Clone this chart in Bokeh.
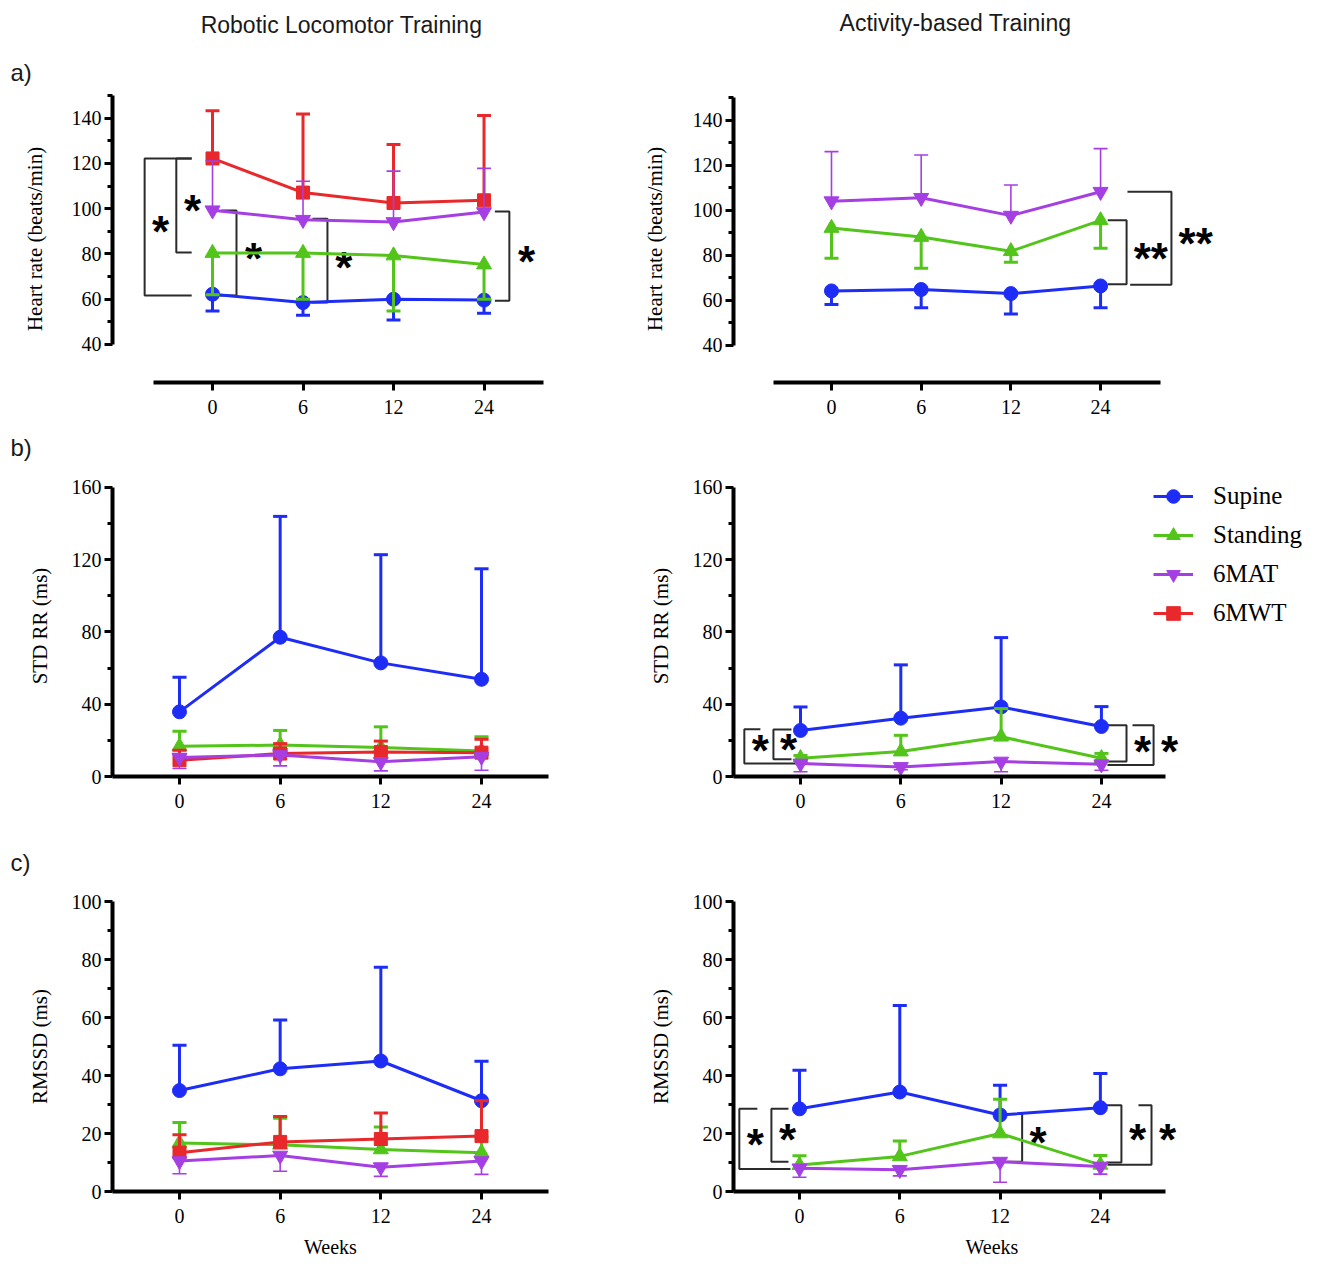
from bokeh.plotting import figure
from bokeh.models import ColumnDataSource, FixedTicker, Legend, LegendItem, Range1d
from bokeh.layouts import row, column
from bokeh.embed import file_html
from bokeh.resources import INLINE
from bokeh.core.properties import value

weeks = ["0", "6", "12", "24"]
groups = ["Supine", "Standing", "6MAT", "6MWT"]

# a) Heart rate (beats/min) - Robotic Locomotor Training
hr_rlt_supine = [62.2, 58.5, 60.0, 59.6]
hr_rlt_supine_sd = [7.4, 5.6, 9.2, 5.8]
hr_rlt_standing = [80.4, 80.4, 79.3, 75.3]
hr_rlt_standing_sd = [18.4, 20.4, 24.5, 15.3]
hr_rlt_6mat = [99.3, 95.1, 94.1, 98.5]
hr_rlt_6mat_sd = [21.7, 17.0, 22.5, 19.3]
hr_rlt_6mwt = [122.2, 107.1, 102.5, 103.7]
hr_rlt_6mwt_sd = [21.1, 34.7, 25.9, 37.5]
# a) Heart rate - Activity-based Training
hr_abt_supine = [64.2, 64.8, 63.0, 66.4]
hr_abt_supine_sd = [6.0, 8.1, 9.0, 9.7]
hr_abt_standing = [92.1, 88.1, 81.8, 95.5]
hr_abt_standing_sd = [13.4, 13.8, 4.9, 12.4]
hr_abt_6mat = [104.0, 105.5, 97.6, 108.2]
hr_abt_6mat_sd = [22.0, 19.0, 13.6, 19.1]

# b) STD RR (ms) - Robotic Locomotor Training
std_rlt_supine = [35.8, 77.1, 62.9, 53.8]
std_rlt_supine_sd = [19.1, 66.9, 59.9, 61.2]
std_rlt_standing = [16.7, 17.4, 16.0, 14.1]
std_rlt_standing_sd = [8.3, 8.1, 11.5, 7.9]
std_rlt_6mat = [10.5, 11.9, 8.1, 11.0]
std_rlt_6mat_sd = [6.1, 6.0, 5.0, 7.5]
std_rlt_6mwt = [9.0, 12.7, 13.6, 13.2]
std_rlt_6mwt_sd = [5.5, 5.5, 6.0, 7.4]
# b) STD RR - Activity-based Training
std_abt_supine = [25.5, 32.3, 38.5, 27.7]
std_abt_supine_sd = [13.0, 29.5, 38.4, 11.0]
std_abt_standing = [10.1, 13.8, 22.0, 10.1]
std_abt_standing_sd = [1.5, 9.0, 15.6, 2.7]
std_abt_6mat = [7.2, 5.3, 8.3, 6.8]
std_abt_6mat_sd = [4.6, 1.6, 5.7, 3.3]

# c) RMSSD (ms) - Robotic Locomotor Training
rmssd_rlt_supine = [34.8, 42.3, 45.0, 31.3]
rmssd_rlt_supine_sd = [15.6, 16.8, 32.3, 13.6]
rmssd_rlt_standing = [16.7, 16.1, 14.5, 13.4]
rmssd_rlt_standing_sd = [7.1, 9.2, 7.7, 5.4]
rmssd_rlt_6mat = [10.5, 12.4, 8.4, 10.5]
rmssd_rlt_6mat_sd = [4.4, 5.4, 3.2, 4.6]
rmssd_rlt_6mwt = [13.4, 17.1, 18.1, 19.1]
rmssd_rlt_6mwt_sd = [6.2, 8.8, 9.0, 12.2]
# c) RMSSD - Activity-based Training
rmssd_abt_supine = [28.5, 34.3, 26.4, 28.9]
rmssd_abt_supine_sd = [13.3, 29.8, 10.2, 11.8]
rmssd_abt_standing = [9.1, 12.1, 20.0, 9.2]
rmssd_abt_standing_sd = [3.2, 5.3, 11.8, 3.2]
rmssd_abt_6mat = [8.0, 7.5, 10.3, 8.6]
rmssd_abt_6mat_sd = [3.1, 2.1, 7.1, 2.6]

# significance brackets: (x of vertical, x end top arm, x end bottom arm, y top, y bottom)
br_hr_rlt = [(-0.75, -0.23, -0.23, 122.2, 61.6), (-0.40, -0.23, -0.23, 122.2, 80.6),
             (0.265, 0.10, 0.08, 99.2, 61.6), (1.27, 1.105, 1.10, 95.6, 58.5),
             (3.28, 3.12, 3.12, 98.8, 59.3)]
st_hr_rlt = [(-0.575, 92.1, "*"), (-0.22, 101.4, "*"), (0.453, 80.2, "*"),
             (1.45, 76.2, "*"), (3.47, 78.8, "*")]
br_hr_abt = [(3.29, 3.08, 3.08, 95.5, 67.2), (3.79, 3.30, 3.33, 108.2, 66.9)]
st_hr_abt = [(3.56, 80.9, "**"), (4.06, 87.3, "**")]
br_std_abt = [(-0.56, -0.40, -0.01, 26.1, 7.2), (-0.27, -0.09, -0.09, 26.0, 9.5),
              (3.25, 3.06, 3.06, 28.4, 8.3), (3.52, 3.31, 3.06, 28.4, 6.4)]
st_std_abt = [(-0.40, 16.9, "*"), (-0.12, 17.8, "*"), (3.41, 16.5, "*"), (3.68, 16.5, "*")]
br_rmssd_abt = [(-0.60, -0.42, -0.09, 28.5, 7.8), (-0.28, -0.11, -0.11, 28.5, 10.3),
                (2.22, 2.07, 2.07, 26.7, 10.3), (3.21, 3.06, 3.06, 29.7, 10.0),
                (3.51, 3.38, 3.07, 29.7, 9.2)]
st_rmssd_abt = [(-0.44, 18.0, "*"), (-0.12, 19.5, "*"), (2.38, 18.6, "*"),
                (3.37, 19.8, "*"), (3.67, 19.8, "*")]

# header texts
header_titles = ["Robotic Locomotor Training", "Activity-based Training"]
panel_letters = ["a)", "b)", "c)"]

COLORS = {"Supine": "#1e2df5", "Standing": "#52c41a", "6MAT": "#a53fe3", "6MWT": "#e8282b"}
MARKERS = {"Supine": "circle", "Standing": "triangle", "6MAT": "inverted_triangle", "6MWT": "square"}
SIZES = {"Supine": 14, "Standing": 15, "6MAT": 15, "6MWT": 13}
ERR_W = {"Supine": 3, "Standing": 3, "6MAT": 1.6, "6MWT": 3}
DIR_A = {"Supine": -1, "Standing": -1, "6MAT": 1, "6MWT": 1}
DIR_BC = {"Supine": 1, "Standing": 1, "6MAT": -1, "6MWT": 1}

SERIF = "Liberation Serif"
SANS = "Liberation Sans"
LEFT_W, RIGHT_W = 620, 700


def strip(height, texts):
    p = figure(width=LEFT_W + RIGHT_W, height=height, x_range=Range1d(0, LEFT_W + RIGHT_W),
               y_range=Range1d(height, 0), output_backend="svg", toolbar_location=None,
               title=None, x_axis_type=None, y_axis_type=None,
               min_border_left=0, min_border_right=0, min_border_top=0, min_border_bottom=0)
    p.grid.visible = False
    p.outline_line_color = None
    for (t, x, y, size, align) in texts:
        p.text(x=[x], y=[y], text=[t], text_font=value(SANS), text_font_size=size,
               text_align=align, text_baseline="middle", text_color="#1a1a1a")
    return p


def make_panel(width, height, borders, xr, yr, yticks, yminor, ybounds, xbounds,
               ylabel, ylabel_standoff, xlabel=None):
    l, r, t, b = borders
    p = figure(width=width, height=height, x_range=xr, y_range=yr,
               output_backend="svg", toolbar_location=None, title=None,
               min_border_left=l, min_border_right=r, min_border_top=t, min_border_bottom=b)
    p.grid.visible = False
    p.outline_line_color = None
    p.background_fill_color = "white"
    p.border_fill_color = "white"
    for ax in (p.xaxis[0], p.yaxis[0]):
        ax.axis_line_width = 4
        ax.axis_line_color = "black"
        ax.major_tick_out = 8
        ax.major_tick_in = 0
        ax.major_tick_line_width = 3
        ax.major_tick_line_color = "black"
        ax.minor_tick_out = 5
        ax.minor_tick_in = 0
        ax.minor_tick_line_width = 3
        ax.major_label_text_font = SERIF
        ax.major_label_text_font_size = "20px"
        ax.major_label_text_color = "black"
        ax.axis_label_text_font = SERIF
        ax.axis_label_text_font_style = "normal"
        ax.axis_label_text_color = "black"
    xa = p.xaxis[0]
    xa.ticker = FixedTicker(ticks=[0, 1, 2, 3])
    xa.major_label_overrides = {i: w for i, w in enumerate(weeks)}
    xa.minor_tick_line_color = None
    xa.major_label_standoff = 9
    if xbounds is not None:
        xa.bounds = xbounds
    if xlabel:
        xa.axis_label = xlabel
        xa.axis_label_text_font_size = "20px"
        xa.axis_label_standoff = 10
    ya = p.yaxis[0]
    ya.ticker = FixedTicker(ticks=yticks, minor_ticks=yminor)
    ya.bounds = ybounds
    ya.major_label_standoff = 3
    ya.axis_label = ylabel
    ya.axis_label_text_font_size = "21px"
    ya.axis_label_standoff = ylabel_standoff
    return p


def draw_series(p, name, means, sds, direction, capw):
    x = [0, 1, 2, 3]
    c = COLORS[name]
    lr = p.line(x, means, line_color=c, line_width=3)
    ends = [m + direction[name] * s for m, s in zip(means, sds)]
    ew = ERR_W[name]
    p.segment(x0=x, y0=means, x1=x, y1=ends, line_color=c, line_width=ew)
    p.segment(x0=[xi - capw for xi in x], y0=ends, x1=[xi + capw for xi in x], y1=ends,
              line_color=c, line_width=ew)
    sr = p.scatter(x, means, marker=MARKERS[name], size=SIZES[name], fill_color=c, line_color=c)
    return lr, sr


def draw_sig(p, brackets, stars):
    xs = [[a, v, v, bb] for (v, a, bb, yt, yb) in brackets]
    ys = [[yt, yt, yb, yb] for (v, a, bb, yt, yb) in brackets]
    p.multi_line(xs=xs, ys=ys, line_color="#2b2b2b", line_width=2)
    src = ColumnDataSource(dict(x=[s[0] for s in stars], y=[s[1] for s in stars],
                                t=[s[2] for s in stars]))
    p.text(x="x", y="y", text="t", source=src, text_font=value(SANS), text_font_style="bold",
           text_font_size="44px", text_align="center", text_baseline="alphabetic",
           y_offset=5, text_color="black")


# ---------- header strips
s1 = strip(90, [(header_titles[0], 341, 24, "23px", "center"),
                (header_titles[1], 955, 22, "23px", "center"),
                (panel_letters[0], 10, 72, "24px", "left")])
s2 = strip(45, [(panel_letters[1], 10, 22, "24px", "left")])
s3 = strip(45, [(panel_letters[2], 10, 22, "24px", "left")])

# ---------- a) left
pa1 = make_panel(LEFT_W, 335, (112, 60, 5, 43), (-1.105, 3.845), (23.2, 150),
                 [40, 60, 80, 100, 120, 140], [50, 70, 90, 110, 130, 150], (40, 150),
                 (-0.65, 3.66), "Heart rate (beats/min)", 22)
draw_sig(pa1, br_hr_rlt, st_hr_rlt)
for nm, m, s in [("Supine", hr_rlt_supine, hr_rlt_supine_sd),
                 ("Standing", hr_rlt_standing, hr_rlt_standing_sd),
                 ("6MWT", hr_rlt_6mwt, hr_rlt_6mwt_sd),
                 ("6MAT", hr_rlt_6mat, hr_rlt_6mat_sd)]:
    draw_series(pa1, nm, m, s, DIR_A, 0.077)

# ---------- a) right
pa2 = make_panel(RIGHT_W, 335, (113, 80, 5, 43), (-1.0925, 4.56), (23.56, 150.89),
                 [40, 60, 80, 100, 120, 140], [50, 70, 90, 110, 130, 150], (40, 150),
                 (-0.647, 3.67), "Heart rate (beats/min)", 23)
draw_sig(pa2, br_hr_abt, st_hr_abt)
for nm, m, s in [("Supine", hr_abt_supine, hr_abt_supine_sd),
                 ("Standing", hr_abt_standing, hr_abt_standing_sd),
                 ("6MAT", hr_abt_6mat, hr_abt_6mat_sd)]:
    draw_series(pa2, nm, m, s, DIR_A, 0.078)

# ---------- b) left
pb1 = make_panel(LEFT_W, 370, (112, 72, 5, 64), (-0.6655, 3.6655), (0, 166.64),
                 [0, 40, 80, 120, 160], [20, 60, 100, 140], (0, 160), None,
                 "STD RR (ms)", 17)
for nm, m, s in [("Supine", std_rlt_supine, std_rlt_supine_sd),
                 ("Standing", std_rlt_standing, std_rlt_standing_sd),
                 ("6MWT", std_rlt_6mwt, std_rlt_6mwt_sd),
                 ("6MAT", std_rlt_6mat, std_rlt_6mat_sd)]:
    draw_series(pb1, nm, m, s, DIR_BC, 0.07)

# ---------- b) right (with legend)
pb2 = make_panel(RIGHT_W, 370, (113, 0, 5, 64), (-0.668, 5.184), (0, 166.64),
                 [0, 40, 80, 120, 160], [20, 60, 100, 140], (0, 160), (-0.668, 3.64),
                 "STD RR (ms)", 17)
draw_sig(pb2, br_std_abt, st_std_abt)
rends = {}
for nm, m, s in [("Supine", std_abt_supine, std_abt_supine_sd),
                 ("Standing", std_abt_standing, std_abt_standing_sd),
                 ("6MAT", std_abt_6mat, std_abt_6mat_sd)]:
    rends[nm] = draw_series(pb2, nm, m, s, DIR_BC, 0.07)
# 6MWT was not measured in this group: legend proxy with no visible values
proxy = ColumnDataSource(dict(x=[float("nan")], y=[float("nan")]))
rends["6MWT"] = (pb2.line("x", "y", source=proxy, line_color=COLORS["6MWT"], line_width=3),
                 pb2.scatter("x", "y", source=proxy, marker=MARKERS["6MWT"], size=SIZES["6MWT"],
                             fill_color=COLORS["6MWT"], line_color=COLORS["6MWT"]))
legend = Legend(items=[LegendItem(label=g, renderers=list(rends[g])) for g in groups],
                location=(420, 146), orientation="vertical", padding=0, margin=0, spacing=5,
                glyph_width=40, glyph_height=34, label_height=34, label_standoff=20,
                label_text_font=SERIF, label_text_font_size="25px", label_text_color="black",
                border_line_color=None, background_fill_alpha=0)
pb2.add_layout(legend)

# ---------- c) left
pc1 = make_panel(LEFT_W, 379, (112, 72, 16, 73), (-0.6655, 3.6655), (0, 100),
                 [0, 20, 40, 60, 80, 100], [10, 30, 50, 70, 90], (0, 100), None,
                 "RMSSD (ms)", 17, "Weeks")
for nm, m, s in [("Supine", rmssd_rlt_supine, rmssd_rlt_supine_sd),
                 ("Standing", rmssd_rlt_standing, rmssd_rlt_standing_sd),
                 ("6MWT", rmssd_rlt_6mwt, rmssd_rlt_6mwt_sd),
                 ("6MAT", rmssd_rlt_6mat, rmssd_rlt_6mat_sd)]:
    draw_series(pc1, nm, m, s, DIR_BC, 0.07)

# ---------- c) right
pc2 = make_panel(RIGHT_W, 379, (113, 70, 16, 73), (-0.658, 4.497), (0, 100),
                 [0, 20, 40, 60, 80, 100], [10, 30, 50, 70, 90], (0, 100), (-0.658, 3.65),
                 "RMSSD (ms)", 17, "Weeks")
draw_sig(pc2, br_rmssd_abt, st_rmssd_abt)
for nm, m, s in [("Supine", rmssd_abt_supine, rmssd_abt_supine_sd),
                 ("Standing", rmssd_abt_standing, rmssd_abt_standing_sd),
                 ("6MAT", rmssd_abt_6mat, rmssd_abt_6mat_sd)]:
    draw_series(pc2, nm, m, s, DIR_BC, 0.07)

layout = column(s1, row(pa1, pa2), s2, row(pb1, pb2), s3, row(pc1, pc2))
open("out.html", "w").write(file_html(layout, INLINE))
